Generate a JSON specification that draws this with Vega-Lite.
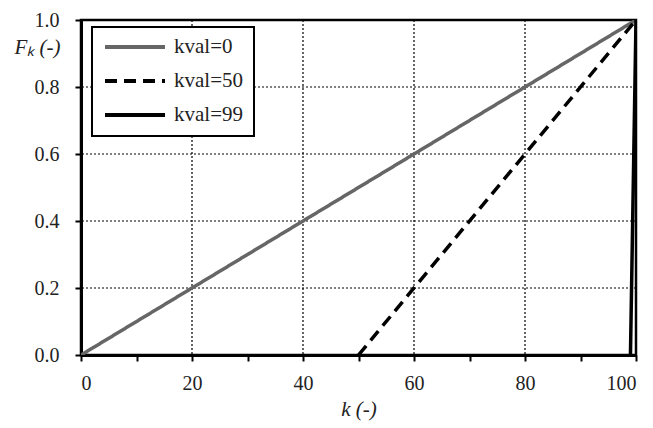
{
  "$schema": "https://vega.github.io/schema/vega-lite/v6.json",
  "width": 555,
  "height": 335,
  "autosize": {"type": "none"},
  "padding": {"left": 81, "top": 20, "right": 17, "bottom": 73},
  "background": "white",
  "config": {
    "font": "Liberation Serif",
    "view": {"stroke": "black", "strokeWidth": 2.5},
    "legend": {
      "strokeWidth": 2,
      "strokeColor": "black",
      "fillColor": "white",
      "labelFont": "Liberation Serif",
      "labelFontSize": 21,
      "labelColor": "#222",
      "labelOffset": 7,
      "symbolType": "stroke",
      "symbolSize": 3600,
      "symbolStrokeWidth": 4,
      "clipHeight": 18,
      "rowPadding": 13,
      "padding": 11
    },
    "axis": {
      "domainColor": "black",
      "domainWidth": 3,
      "tickColor": "black",
      "tickWidth": 2,
      "labelColor": "#222",
      "labelFontSize": 20,
      "titleColor": "#222",
      "titleFontSize": 21,
      "titleFontWeight": "normal",
      "grid": false
    }
  },
  "datasets": {
    "curves": [
      {"series": "kval=0", "k": 0, "F": 0},
      {"series": "kval=0", "k": 100, "F": 1},
      {"series": "kval=50", "k": 50, "F": 0},
      {"series": "kval=50", "k": 100, "F": 1},
      {"series": "kval=99", "k": 99, "F": 0},
      {"series": "kval=99", "k": 100, "F": 1}
    ],
    "xgrid": [{"k": 20}, {"k": 40}, {"k": 60}, {"k": 80}],
    "ygrid": [{"F": 0.2}, {"F": 0.4}, {"F": 0.6}, {"F": 0.8}]
  },
  "layer": [
    {
      "data": {"name": "xgrid"},
      "mark": {"type": "rule", "color": "black", "strokeWidth": 1.2, "strokeDash": [2, 2]},
      "encoding": {"x": {"field": "k", "type": "quantitative"}}
    },
    {
      "data": {"name": "ygrid"},
      "mark": {"type": "rule", "color": "black", "strokeWidth": 1.2, "strokeDash": [2, 2]},
      "encoding": {"y": {"field": "F", "type": "quantitative"}}
    },
    {
      "data": {"name": "curves"},
      "mark": {"type": "line", "strokeWidth": 3.5, "clip": true},
      "encoding": {
        "x": {
          "field": "k",
          "type": "quantitative",
          "scale": {"domain": [0, 100], "nice": false, "zero": false},
          "axis": {
            "values": [0, 10, 20, 30, 40, 50, 60, 70, 80, 90, 100],
            "labelExpr": "datum.value / 20 === floor(datum.value / 20) ? datum.label : ''",
            "tickSize": 6,
            "labelPadding": 12,
            "title": "k (-)",
            "titleFontStyle": "italic",
            "titlePadding": 5
          }
        },
        "y": {
          "field": "F",
          "type": "quantitative",
          "scale": {"domain": [0, 1], "nice": false},
          "axis": {
            "values": [0, 0.1, 0.2, 0.3, 0.4, 0.5, 0.6, 0.7, 0.8, 0.9, 1.0],
            "labelExpr": "abs(datum.value * 5 - round(datum.value * 5)) < 0.01 ? format(datum.value, '.1f') : ''",
            "tickSize": 6,
            "labelPadding": 16,
            "title": "Fₖ (-)",
            "titleFontStyle": "italic",
            "titleAngle": 0,
            "titleAlign": "left",
            "titleBaseline": "middle",
            "titleX": -67,
            "titleY": 27
          }
        },
        "color": {
          "field": "series",
          "type": "nominal",
          "scale": {"domain": ["kval=0", "kval=50", "kval=99"], "range": ["#666666", "#000000", "#000000"]},
          "legend": {
            "title": null,
            "orient": "none",
            "legendX": 11,
            "legendY": 7
          }
        },
        "strokeDash": {
          "field": "series",
          "type": "nominal",
          "scale": {"domain": ["kval=0", "kval=50", "kval=99"], "range": [[1, 0], [12, 7], [1, 0]]},
          "legend": {"title": null}
        }
      }
    }
  ]
}
